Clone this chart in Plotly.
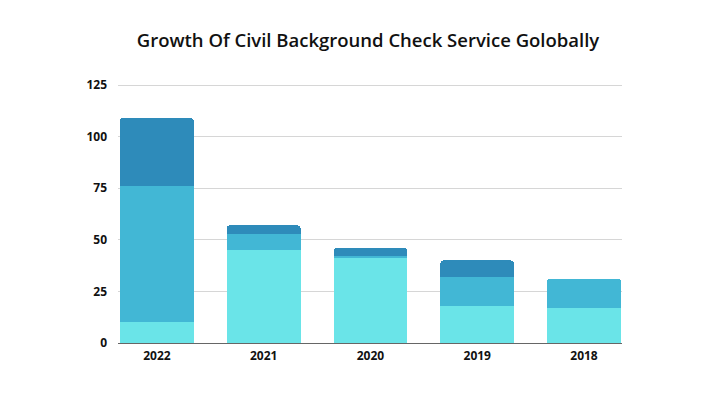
import plotly.graph_objects as go

categories = ["2022", "2021", "2020", "2019", "2018"]
series_bottom = [10, 45, 41, 18, 17]
series_middle = [66, 8, 1, 14, 14]
series_top = [33, 4, 4, 8, 0]
y_ticks = [0, 25, 50, 75, 100, 125]

colors = ["#6AE4E8", "#42B7D5", "#2E8BBA"]

fig = go.Figure()
for name, vals, c in [("Series 1", series_bottom, colors[0]),
                      ("Series 2", series_middle, colors[1]),
                      ("Series 3", series_top, colors[2])]:
    fig.add_trace(go.Bar(x=categories, y=vals, name=name,
                         marker=dict(color=c, line=dict(width=0)),
                         width=0.69))

fig.update_layout(
    barmode="stack",
    barcornerradius=3,
    width=720, height=400,
    margin=dict(l=110, r=106, t=75, b=65),
    paper_bgcolor="white", plot_bgcolor="white",
    showlegend=False,
    title=dict(text="Growth Of Civil Background Check Service Golobally",
               x=0.5, xanchor="center", y=0.9175, yanchor="middle",
               font=dict(family="Open Sans", size=18.5, color="#111111", weight=600)),
    font=dict(family="Open Sans", size=12, color="#111111"),
)
fig.update_xaxes(range=[-0.365, 4.356], showgrid=False, showline=False,
                 ticks="", ticklabelstandoff=4,
                 tickfont=dict(family="Open Sans", size=12, weight="bold", color="#111111"))
fig.update_yaxes(range=[0, 126], tickvals=y_ticks, showgrid=True, gridcolor="#d6d6d6",
                 gridwidth=1, zeroline=True, zerolinecolor="#666666", zerolinewidth=1,
                 ticks="", ticklabelstandoff=10,
                 tickfont=dict(family="Open Sans", size=12, weight="bold", color="#111111"))

fig.write_html("out.html")
